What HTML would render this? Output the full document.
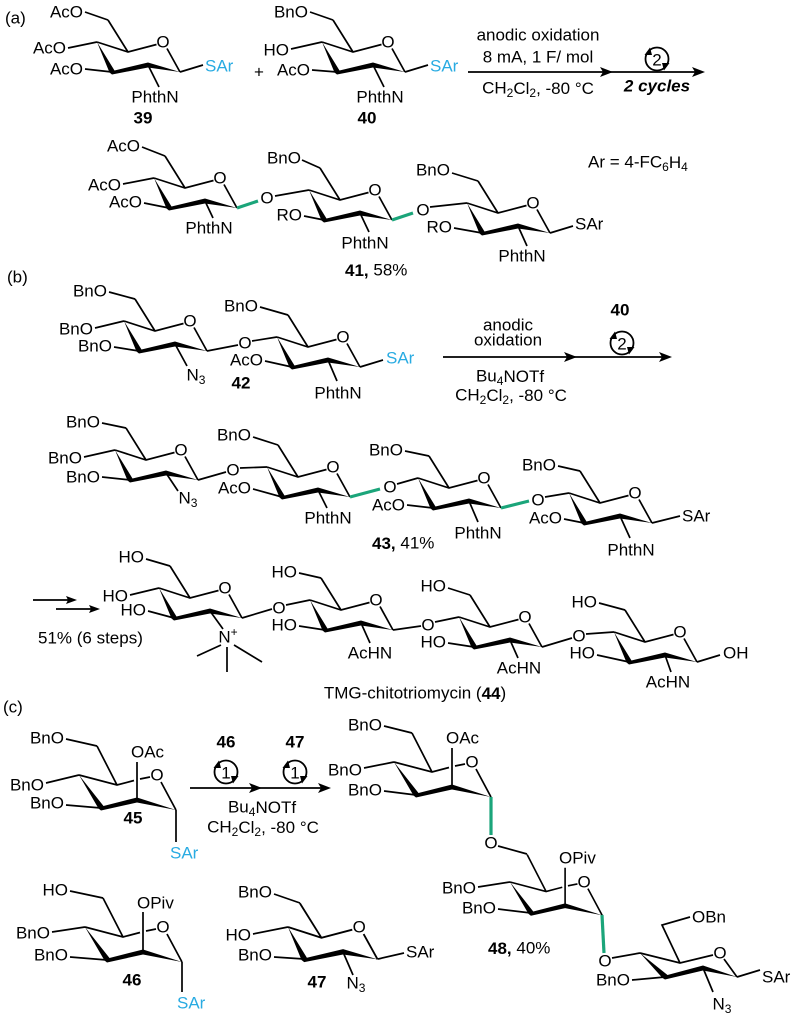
<!DOCTYPE html>
<html>
<head>
<meta charset="utf-8">
<style>
html,body{margin:0;padding:0;background:#fff;}
svg{display:block;}
text{font-family:"Liberation Sans",Arial,sans-serif;font-size:17px;dominant-baseline:central;fill:#000;}
.b{font-weight:bold;}
.bi{font-weight:bold;font-style:italic;}
.s{fill:#29abe2;}
.e{text-anchor:end;}
.m{text-anchor:middle;}
path{fill:none;stroke:#000;stroke-width:1.7;}
path.g{stroke:#1ba57a;stroke-width:3.2;}
polygon{fill:#000;stroke:none;}
circle{fill:none;stroke:#000;stroke-width:1.8;}
</style>
</head>
<body>
<svg width="800" height="1023" viewBox="0 0 800 1023" xmlns="http://www.w3.org/2000/svg">

<!-- ================= (a) ================= -->
<text x="5" y="18">(a)</text>

<!-- 39 -->
<g transform="translate(97,42)">
  <path d="M0,0 L31,10 L59.5,2.5 M70,6.5 L83,30 M31,10 L11,-22"/>
  <polygon points="0,0 17.5,28.5 51,20.5 83,30 51,25.5 15,32.5 12.5,30.5"/>
  <text class="m" x="66" y="0">O</text>
  <path d="M11,-22 L-12,-30 M0,0 L-29,6 M15,30 L-12,27 M51,23 L62,45 M83,30 L106,23"/>
  <text class="e" x="-14" y="-30">AcO</text>
  <text class="e" x="-31" y="6">AcO</text>
  <text class="e" x="-14" y="27">AcO</text>
  <text class="m" x="58" y="55">PhthN</text>
  <text class="s" x="108" y="24">SAr</text>
  <text class="m b" x="46" y="76">39</text>
</g>

<text class="m" x="259" y="72">+</text>

<!-- 40 -->
<g transform="translate(322,42)">
  <path d="M0,0 L31,10 L59.5,2.5 M70,6.5 L83,30 M31,10 L11,-22"/>
  <polygon points="0,0 17.5,28.5 51,20.5 83,30 51,25.5 15,32.5 12.5,30.5"/>
  <text class="m" x="66" y="0">O</text>
  <path d="M11,-22 L-12,-30 M0,0 L-31,7 M15,30 L-10,28 M51,23 L62,45 M83,30 L106,23"/>
  <text class="e" x="-14" y="-30">BnO</text>
  <text class="e" x="-33" y="8">HO</text>
  <text class="e" x="-12" y="28">AcO</text>
  <text class="m" x="58" y="55">PhthN</text>
  <text class="s" x="108" y="24">SAr</text>
  <text class="m b" x="45" y="76">40</text>
</g>

<!-- arrow (a) -->
<path d="M468,72 L700,72"/>
<polygon points="613,72 600,67 603,72 600,77"/>
<polygon points="705,72 692,67 695,72 692,77"/>
<text class="m" x="538" y="35">anodic oxidation</text>
<text class="m" x="538" y="57">8 mA, 1 F/ mol</text>
<text class="m" x="538" y="88">CH<tspan font-size="12" dy="5">2</tspan><tspan dy="-5">Cl</tspan><tspan font-size="12" dy="5">2</tspan><tspan dy="-5">, -80 °C</tspan></text>
<g transform="translate(657,59)">
  <circle r="11.5"/>
  <text class="m" x="0" y="1">2</text>
  <polygon points="-12.5,-4 -7,-11.5 -5,-4"/>
  <polygon points="12.5,4 7,11.5 5,4"/>
</g>
<text class="m bi" x="657" y="86">2 cycles</text>

<text x="588" y="162">Ar = 4-FC<tspan font-size="12" dy="5">6</tspan><tspan dy="-5">H</tspan><tspan font-size="12" dy="5">4</tspan></text>

<!-- 41 ring 1 -->
<g transform="translate(154,178)">
  <path d="M0,0 L31,10 L59.5,2.5 M70,6.5 L83,30 M31,10 L11,-22"/>
  <polygon points="0,0 17.5,28.5 51,20.5 83,30 51,25.5 15,32.5 12.5,30.5"/>
  <text class="m" x="66" y="0">O</text>
  <path d="M11,-22 L-12,-31 M0,0 L-31,6 M15,30 L-10,25 M51,23 L59,40"/>
  <text class="e" x="-14" y="-32">AcO</text>
  <text class="e" x="-33" y="7">AcO</text>
  <text class="e" x="-12" y="24">AcO</text>
  <text class="m" x="55" y="50">PhthN</text>
  <path class="g" d="M83,30 L104,23"/>
  <text class="m" x="113" y="20">O</text>
</g>
<path d="M275,196 L309,190"/>
<!-- 41 ring 2 -->
<g transform="translate(309,190)">
  <path d="M0,0 L31,10 L59.5,2.5 M70,6.5 L83,30 M31,10 L11,-22"/>
  <polygon points="0,0 17.5,28.5 51,20.5 83,30 51,25.5 15,32.5 12.5,30.5"/>
  <text class="m" x="66" y="0">O</text>
  <path d="M11,-22 L-7,-30 M15,30 L-5,26 M51,23 L60,42"/>
  <text class="e" x="-8" y="-32">BnO</text>
  <text class="e" x="-7" y="25">RO</text>
  <text class="m" x="56" y="53">PhthN</text>
  <path class="g" d="M83,30 L104,23"/>
  <text class="m" x="114" y="20">O</text>
</g>
<path d="M430,207 L467,203"/>
<!-- 41 ring 3 -->
<g transform="translate(467,203)">
  <path d="M0,0 L31,10 L59.5,2.5 M70,6.5 L83,30 M31,10 L11,-22"/>
  <polygon points="0,0 17.5,28.5 51,20.5 83,30 51,25.5 15,32.5 12.5,30.5"/>
  <text class="m" x="66" y="0">O</text>
  <path d="M11,-22 L-15,-30 M15,30 L-13,25 M51,23 L60,43 M83,30 L106,23"/>
  <text class="e" x="-17" y="-33">BnO</text>
  <text class="e" x="-15" y="24">RO</text>
  <text class="m" x="55" y="53">PhthN</text>
  <text x="108" y="21">SAr</text>
</g>
<text x="345" y="270"><tspan class="b">41,</tspan> 58%</text>

<!-- ================= (b) ================= -->
<text x="7" y="277">(b)</text>

<!-- 42 ring 1 -->
<g transform="translate(124,321)">
  <path d="M0,0 L31,10 L59.5,2.5 M70,6.5 L83,30 M31,10 L11,-22"/>
  <polygon points="0,0 17.5,28.5 51,20.5 83,30 51,25.5 15,32.5 12.5,30.5"/>
  <text class="m" x="66" y="0">O</text>
  <path d="M11,-22 L-15,-29 M0,0 L-29,7 M15,30 L-10,26 M51,23 L63,45 M83,30 L114,24"/>
  <text class="e" x="-17" y="-30">BnO</text>
  <text class="e" x="-31" y="8">BnO</text>
  <text class="e" x="-12" y="25">BnO</text>
  <text class="m" x="72" y="54">N<tspan font-size="12" dy="5">3</tspan></text>
  <text class="m" x="121" y="22">O</text>
</g>
<path d="M252,341 L277,337"/>
<!-- 42 ring 2 -->
<g transform="translate(277,337)">
  <path d="M0,0 L31,10 L59.5,2.5 M70,6.5 L83,30 M31,10 L11,-22"/>
  <polygon points="0,0 17.5,28.5 51,20.5 83,30 51,25.5 15,32.5 12.5,30.5"/>
  <text class="m" x="66" y="0">O</text>
  <path d="M11,-22 L-17,-30 M15,30 L-12,24 M51,23 L60,44 M83,30 L106,23"/>
  <text class="e" x="-19" y="-31">BnO</text>
  <text class="e" x="-14" y="23">AcO</text>
  <text class="m" x="61" y="56">PhthN</text>
  <text class="s" x="109" y="21">SAr</text>
</g>
<text class="m b" x="241" y="383">42</text>

<!-- arrow (b) -->
<path d="M443,357 L668,357"/>
<polygon points="577,357 564,352 567,357 564,362"/>
<polygon points="672,357 659,352 662,357 659,362"/>
<text class="m" x="508" y="325">anodic</text>
<text class="m" x="508" y="340">oxidation</text>
<text class="m" x="510" y="376">Bu<tspan font-size="12" dy="5">4</tspan><tspan dy="-5">NOTf</tspan></text>
<text class="m" x="511" y="395">CH<tspan font-size="12" dy="5">2</tspan><tspan dy="-5">Cl</tspan><tspan font-size="12" dy="5">2</tspan><tspan dy="-5">, -80 °C</tspan></text>
<text class="m b" x="620" y="310">40</text>
<g transform="translate(622,343)">
  <circle r="11.5"/>
  <text class="m" x="0" y="1">2</text>
  <polygon points="-12.5,-4 -7,-11.5 -5,-4"/>
  <polygon points="12.5,4 7,11.5 5,4"/>
</g>

<!-- 43 ring 1 -->
<g transform="translate(115,450)">
  <path d="M0,0 L31,10 L59.5,2.5 M70,6.5 L83,30 M31,10 L11,-22"/>
  <polygon points="0,0 17.5,28.5 51,20.5 83,30 51,25.5 15,32.5 12.5,30.5"/>
  <text class="m" x="66" y="0">O</text>
  <path d="M11,-22 L-13,-27 M0,0 L-31,7 M15,30 L-13,27 M51,23 L63,41 M83,30 L111,22"/>
  <text class="e" x="-15" y="-28">BnO</text>
  <text class="e" x="-33" y="8">BnO</text>
  <text class="e" x="-15" y="27">BnO</text>
  <text class="m" x="73" y="48">N<tspan font-size="12" dy="5">3</tspan></text>
  <text class="m" x="118" y="20">O</text>
</g>
<path d="M240,468 L267,467"/>
<!-- 43 ring 2 -->
<g transform="translate(267,467)">
  <path d="M0,0 L31,10 L59.5,2.5 M70,6.5 L83,30 M31,10 L11,-22"/>
  <polygon points="0,0 17.5,28.5 51,20.5 83,30 51,25.5 15,32.5 12.5,30.5"/>
  <text class="m" x="66" y="0">O</text>
  <path d="M11,-22 L-14,-30 M15,30 L-14,22 M51,23 L60,41"/>
  <text class="e" x="-16" y="-32">BnO</text>
  <text class="e" x="-16" y="21">AcO</text>
  <text class="m" x="61" y="51">PhthN</text>
  <path class="g" d="M83,30 L113,22"/>
  <text class="m" x="123" y="20">O</text>
</g>
<path d="M397,484 L418,478"/>
<!-- 43 ring 3 -->
<g transform="translate(418,478)">
  <path d="M0,0 L31,10 L59.5,2.5 M70,6.5 L83,30 M31,10 L11,-22"/>
  <polygon points="0,0 17.5,28.5 51,20.5 83,30 51,25.5 15,32.5 12.5,30.5"/>
  <text class="m" x="66" y="0">O</text>
  <path d="M11,-22 L-13,-27 M15,30 L-11,27 M51,23 L60,44"/>
  <text class="e" x="-15" y="-28">BnO</text>
  <text class="e" x="-13" y="27">AcO</text>
  <text class="m" x="60" y="55">PhthN</text>
  <path class="g" d="M83,30 L111,23"/>
  <text class="m" x="120" y="22">O</text>
</g>
<path d="M545,497 L569,493"/>
<!-- 43 ring 4 -->
<g transform="translate(569,493)">
  <path d="M0,0 L31,10 L59.5,2.5 M70,6.5 L83,30 M31,10 L11,-22"/>
  <polygon points="0,0 17.5,28.5 51,20.5 83,30 51,25.5 15,32.5 12.5,30.5"/>
  <text class="m" x="66" y="0">O</text>
  <path d="M11,-22 L-11,-27 M15,30 L-5,26 M51,23 L61,45 M83,30 L111,23"/>
  <text class="e" x="-13" y="-28">BnO</text>
  <text class="e" x="-7" y="25">AcO</text>
  <text class="m" x="62" y="57">PhthN</text>
  <text x="113" y="23">SAr</text>
</g>
<text x="372" y="543"><tspan class="b">43,</tspan> 41%</text>

<!-- 44 -->
<path d="M33,600 L72,600 M56,609 L95,609"/>
<polygon points="77,600 66,596 68,600 66,604"/>
<polygon points="100,609 89,605 91,609 89,613"/>
<text x="38" y="638">51% (6 steps)</text>

<g transform="translate(159,588)">
  <path d="M0,0 L31,10 L59.5,2.5 M70,6.5 L83,30 M31,10 L11,-22"/>
  <polygon points="0,0 17.5,28.5 51,20.5 83,30 51,25.5 15,32.5 12.5,30.5"/>
  <text class="m" x="66" y="0">O</text>
  <path d="M11,-22 L-13,-29 M0,0 L-29,7 M15,30 L-11,23 M51,23 L64,41 M83,30 L113,21"/>
  <text class="e" x="-15" y="-31">HO</text>
  <text class="e" x="-31" y="8">HO</text>
  <text class="e" x="-13" y="22">HO</text>
  <text class="m" x="120" y="20">O</text>
</g>
<text class="m" x="228" y="637">N<tspan font-size="12" dy="-5">+</tspan></text>
<path d="M221,645 L197,656 M234,645 L262,662 M227,647 L227,672"/>
<path d="M286,605 L310,600"/>
<g transform="translate(310,600)">
  <path d="M0,0 L31,10 L59.5,2.5 M70,6.5 L83,30 M31,10 L11,-22"/>
  <polygon points="0,0 17.5,28.5 51,20.5 83,30 51,25.5 15,32.5 12.5,30.5"/>
  <text class="m" x="66" y="0">O</text>
  <path d="M11,-22 L-11,-27 M15,30 L-11,26 M51,23 L60,43 M83,30 L111,26"/>
  <text class="e" x="-13" y="-28">HO</text>
  <text class="e" x="-13" y="25">HO</text>
  <text class="m" x="60" y="53">AcHN</text>
  <text class="m" x="118" y="25">O</text>
</g>
<path d="M435,622 L459,617"/>
<g transform="translate(459,617)">
  <path d="M0,0 L31,10 L59.5,2.5 M70,6.5 L83,30 M31,10 L11,-22"/>
  <polygon points="0,0 17.5,28.5 51,20.5 83,30 51,25.5 15,32.5 12.5,30.5"/>
  <text class="m" x="66" y="0">O</text>
  <path d="M11,-22 L-11,-29 M15,30 L-11,26 M51,23 L59,41 M83,30 L113,21"/>
  <text class="e" x="-13" y="-31">HO</text>
  <text class="e" x="-13" y="25">HO</text>
  <text class="m" x="60" y="51">AcHN</text>
  <text class="m" x="120" y="19">O</text>
</g>
<path d="M586,634 L614,632"/>
<g transform="translate(614,632)">
  <path d="M0,0 L31,10 L59.5,2.5 M70,6.5 L83,30 M31,10 L11,-22"/>
  <polygon points="0,0 17.5,28.5 51,20.5 83,30 51,25.5 15,32.5 12.5,30.5"/>
  <text class="m" x="66" y="0">O</text>
  <path d="M11,-22 L-15,-29 M15,30 L-17,23 M51,23 L57,40 M83,30 L106,23"/>
  <text class="e" x="-17" y="-30">HO</text>
  <text class="e" x="-19" y="21">HO</text>
  <text class="m" x="54" y="50">AcHN</text>
  <text x="109" y="21">OH</text>
</g>
<text class="m" x="415" y="693">TMG-chitotriomycin (<tspan class="b">44</tspan>)</text>

<!-- ================= (c) ================= -->
<text x="3" y="707">(c)</text>

<!-- 45 -->
<g transform="translate(79,775)">
  <path d="M0,0 L38,10 L55,5.5 M61,4 L71,2 M82,7 L97,35 M38,10 L18,-29 M58,25 L58,-13"/>
  <polygon points="0,0 24.5,31 58,22.5 97,35 58,27.5 22,35.5 19.5,33.5"/>
  <text class="m" x="78" y="0">O</text>
  <path d="M18,-29 L-13,-36 M0,0 L-33,8 M22,33 L-13,30 M97,35 L97,67"/>
  <text class="e" x="-15" y="-37">BnO</text>
  <text class="e" x="-35" y="10">BnO</text>
  <text class="e" x="-15" y="28">BnO</text>
  <text x="52" y="-23">OAc</text>
  <text class="s" x="91" y="78">SAr</text>
  <text class="m b" x="54" y="43">45</text>
</g>

<!-- arrow (c) -->
<path d="M190,788 L327,788"/>
<polygon points="262,788 249,783 252,788 249,793"/>
<polygon points="331,788 318,783 321,788 318,793"/>
<text class="m b" x="226" y="742">46</text>
<text class="m b" x="295" y="742">47</text>
<g transform="translate(226,772)">
  <circle r="11.5"/>
  <text class="m" x="0" y="1">1</text>
  <polygon points="-12.5,-4 -7,-11.5 -5,-4"/>
  <polygon points="12.5,4 7,11.5 5,4"/>
</g>
<g transform="translate(295,772)">
  <circle r="11.5"/>
  <text class="m" x="0" y="1">1</text>
  <polygon points="-12.5,-4 -7,-11.5 -5,-4"/>
  <polygon points="12.5,4 7,11.5 5,4"/>
</g>
<text class="m" x="262" y="807">Bu<tspan font-size="12" dy="5">4</tspan><tspan dy="-5">NOTf</tspan></text>
<text class="m" x="263" y="827">CH<tspan font-size="12" dy="5">2</tspan><tspan dy="-5">Cl</tspan><tspan font-size="12" dy="5">2</tspan><tspan dy="-5">, -80 °C</tspan></text>

<!-- 46 -->
<g transform="translate(85,927)">
  <path d="M0,0 L38,10 L55,5.5 M61,4 L71,2 M82,7 L97,35 M38,10 L18,-29 M58,25 L58,-15"/>
  <polygon points="0,0 24.5,31 58,22.5 97,35 58,27.5 22,35.5 19.5,33.5"/>
  <text class="m" x="78" y="0">O</text>
  <path d="M18,-29 L-15,-36 M0,0 L-33,5 M22,33 L-15,30 M97,35 L97,65"/>
  <text class="e" x="-17" y="-37">HO</text>
  <text class="e" x="-35" y="6">BnO</text>
  <text class="e" x="-17" y="28">BnO</text>
  <text x="52" y="-24">OPiv</text>
  <text class="s" x="92" y="76">SAr</text>
  <text class="m b" x="47" y="53">46</text>
</g>

<!-- 47 -->
<g transform="translate(288,927) scale(1.08)">
  <path d="M0,0 L31,10 L59.5,2.5 M70,6.5 L83,30 M31,10 L11,-22"/>
  <polygon points="0,0 17.5,28.5 51,20.5 83,30 51,25.5 15,32.5 12.5,30.5"/>
  <text class="m" x="66" y="0" style="font-size:15.7px">O</text>
</g>
<path d="M300,903 L274,894 M288,927 L253,934 M304,959 L274,957 M343,952 L353,975 M378,959 L404,953"/>
<text class="e" x="272" y="892">BnO</text>
<text class="e" x="251" y="935">HO</text>
<text class="e" x="272" y="955">BnO</text>
<text class="m" x="356" y="983">N<tspan font-size="12" dy="5">3</tspan></text>
<text class="m b" x="317" y="982">47</text>
<text x="406" y="952">SAr</text>

<!-- 48 ring A -->
<g transform="translate(394,762)">
  <path d="M0,0 L38,10 L55,5.5 M61,4 L71,2 M82,7 L97,35 M38,10 L18,-29 M58,25 L58,-14"/>
  <polygon points="0,0 24.5,31 58,22.5 97,35 58,27.5 22,35.5 19.5,33.5"/>
  <text class="m" x="78" y="0">O</text>
  <path d="M18,-29 L-10,-36 M0,0 L-30,6 M22,33 L-10,29"/>
  <text class="e" x="-12" y="-37">BnO</text>
  <text class="e" x="-32" y="8">BnO</text>
  <text class="e" x="-12" y="28">BnO</text>
  <text x="52" y="-24">OAc</text>
  <path class="g" d="M97,35 L97,73"/>
  <text class="m" x="97" y="81">O</text>
</g>
<path d="M498,846 L527,854"/>
<!-- 48 ring B -->
<g transform="translate(510,882) scale(0.95)">
  <path d="M0,0 L38,10 L55,5.5 M61,4 L71,2 M82,7 L97,35 M38,10 L18,-29 M58,25 L58,-15"/>
  <polygon points="0,0 24.5,31 58,22.5 97,35 58,27.5 22,35.5 19.5,33.5"/>
  <text class="m" x="78" y="0" style="font-size:17.9px">O</text>
</g>
<path d="M510,882 L478,887 M531,913 L498,909"/>
<text class="e" x="476" y="888">BnO</text>
<text class="e" x="496" y="908">BnO</text>
<text x="559" y="858">OPiv</text>
<path class="g" d="M602,915 L604,953"/>
<text class="m" x="605" y="961">O</text>
<path d="M612,958 L640,953"/>
<!-- 48 ring C -->
<path d="M640,953 L680,963 L713,955 M724,959 L737,977 M680,963 L662,925 L690,917"/>
<polygon points="640,953 667.5,975 703,965.5 737,977 703,970.5 665,979.5 662.5,978"/>
<text class="m" x="720" y="953">O</text>
<text x="692" y="917">OBn</text>
<path d="M665,977 L632,980 M703,968 L713,992 M737,977 L760,970"/>
<text class="e" x="630" y="980">BnO</text>
<text class="m" x="722" y="1004">N<tspan font-size="12" dy="5">3</tspan></text>
<text x="762" y="977">SAr</text>
<text x="488" y="948"><tspan class="b">48,</tspan>  40%</text>

</svg>
</body>
</html>
